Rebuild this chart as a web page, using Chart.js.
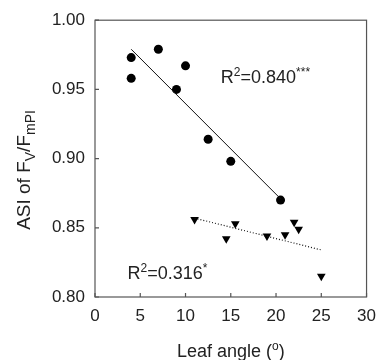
<!DOCTYPE html>
<html>
<head>
<meta charset="utf-8">
<script src="https://cdn.jsdelivr.net/npm/chart.js@4.4.1/dist/chart.umd.min.js"></script>
<style>
    html, body { margin: 0; padding: 0; background: #fff; }
    #wrap { width: 385px; height: 360px; }
</style>
</head>
<body>
<div id="wrap"><canvas id="chart" width="385" height="360"></canvas></div>
<script>
// Data
const circleX = [4, 4, 7, 9, 10, 12.5, 15, 20.5];
const circleY = [0.973, 0.958, 0.979, 0.950, 0.967, 0.914, 0.898, 0.870];
const triX = [11, 14.5, 15.5, 19, 21, 22, 22.5, 25];
const triY = [0.856, 0.842, 0.853, 0.844, 0.845, 0.854, 0.849, 0.815];
const fitCircleX = [4, 20.5];
const fitCircleY = [0.979, 0.871];
const fitTriX = [11, 25];
const fitTriY = [0.857, 0.834];
const xTicks = [0, 5, 10, 15, 20, 25, 30];
const yTicks = [0.80, 0.85, 0.90, 0.95, 1.00];

const FONT = '"Liberation Sans", Arial, Helvetica, sans-serif';
const toPts = (xs, ys) => xs.map((x, i) => ({ x: x, y: ys[i] }));

// draw a run of [text, size, dy] pieces starting at x, baseline y
function drawRun(ctx, parts, x, y) {
    let cx = x;
    parts.forEach(p => {
        ctx.font = p[1] + 'px ' + FONT;
        ctx.fillText(p[0], cx, y + p[2]);
        cx += ctx.measureText(p[0]).width;
    });
    return cx - x;
}
function runWidth(ctx, parts) {
    let w = 0;
    parts.forEach(p => {
        ctx.font = p[1] + 'px ' + FONT;
        w += ctx.measureText(p[0]).width;
    });
    return w;
}

const framePlugin = {
    id: 'frame',
    afterDraw(chart) {
        const ctx = chart.ctx;
        const a = chart.chartArea;
        const xs = chart.scales.x, ys = chart.scales.y;
        ctx.save();
        ctx.strokeStyle = '#555';
        ctx.lineWidth = 1.2;
        ctx.strokeRect(a.left, a.top, a.right - a.left, a.bottom - a.top);

        // inward ticks
        ctx.beginPath();
        xTicks.forEach(v => {
            const px = xs.getPixelForValue(v);
            ctx.moveTo(px, a.bottom);
            ctx.lineTo(px, a.bottom - 4);
        });
        yTicks.forEach(v => {
            const py = ys.getPixelForValue(v);
            ctx.moveTo(a.left, py);
            ctx.lineTo(a.left + 4, py);
        });
        ctx.stroke();

        ctx.fillStyle = '#222';
        ctx.textBaseline = 'alphabetic';
        ctx.textAlign = 'left';

        // x title
        const xt = [['Leaf angle (', 18, 0], ['o', 12, -7], [')', 18, 0]];
        const xw = runWidth(ctx, xt);
        drawRun(ctx, xt, (a.left + a.right) / 2 - xw / 2, 357);

        // y title, rotated
        const yt = [['ASI of F', 19, 0], ['V', 14, 5], ['/F', 19, 0], ['mPI', 14, 5]];
        const yw = runWidth(ctx, yt);
        ctx.save();
        ctx.translate(30, 170);
        ctx.rotate(-Math.PI / 2);
        drawRun(ctx, yt, -yw / 2, 0);
        ctx.restore();

        // R^2 labels
        drawRun(ctx, [['R', 18, 0], ['2', 12, -7], ['=0.840', 18, 0], ['***', 12, -7]],
            xs.getPixelForValue(13.9), ys.getPixelForValue(0.9548));
        drawRun(ctx, [['R', 18, 0], ['2', 12, -7], ['=0.316', 18, 0], ['*', 12, -7]],
            xs.getPixelForValue(3.6), ys.getPixelForValue(0.8130));
        ctx.restore();
    }
};

new Chart(document.getElementById('chart'), {
    type: 'scatter',
    data: {
        datasets: [
            {
                label: 'fit circles',
                data: toPts(fitCircleX, fitCircleY),
                showLine: true,
                borderColor: '#111',
                borderWidth: 1,
                pointRadius: 0
            },
            {
                label: 'fit triangles',
                data: toPts(fitTriX, fitTriY),
                showLine: true,
                borderColor: '#111',
                borderWidth: 1.2,
                borderDash: [1, 2],
                pointRadius: 0
            },
            {
                label: 'circles',
                data: toPts(circleX, circleY),
                pointStyle: 'circle',
                pointRadius: 4.5,
                backgroundColor: '#000',
                borderColor: '#000',
                borderWidth: 0
            },
            {
                label: 'triangles',
                data: toPts(triX, triY),
                pointStyle: 'triangle',
                rotation: 180,
                pointRadius: 5,
                backgroundColor: '#000',
                borderColor: '#000',
                borderWidth: 0
            }
        ]
    },
    options: {
        responsive: false,
        animation: false,
        events: [],
        layout: { padding: { left: 0, right: 13, top: 20, bottom: 0 } },
        plugins: {
            legend: { display: false },
            tooltip: { enabled: false }
        },
        scales: {
            x: {
                type: 'linear',
                min: 0,
                max: 30,
                afterFit(scale) { scale.height = 63; },
                afterBuildTicks(scale) { scale.ticks = xTicks.map(v => ({ value: v })); },
                grid: { display: false, drawTicks: false },
                border: { display: false },
                ticks: {
                    padding: 9,
                    color: '#222',
                    font: { family: FONT, size: 17 }
                }
            },
            y: {
                type: 'linear',
                min: 0.80,
                max: 1.00,
                afterFit(scale) { scale.width = 95; },
                afterBuildTicks(scale) { scale.ticks = yTicks.map(v => ({ value: v })); },
                grid: { display: false, drawTicks: false },
                border: { display: false },
                ticks: {
                    padding: 10,
                    color: '#222',
                    font: { family: FONT, size: 17 },
                    callback: v => v.toFixed(2)
                }
            }
        }
    },
    plugins: [framePlugin]
});
</script>
</body>
</html>
